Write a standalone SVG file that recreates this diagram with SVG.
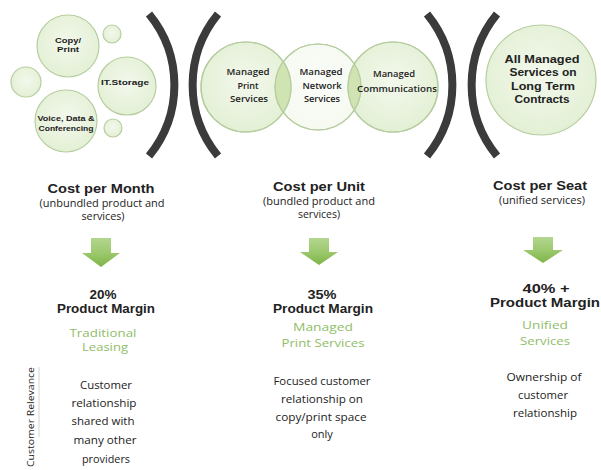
<svg xmlns="http://www.w3.org/2000/svg" width="601" height="470" viewBox="0 0 601 470">
<defs>
<linearGradient id="arr" x1="0" y1="0" x2="0" y2="1">
<stop offset="0" stop-color="#b3d690"/>
<stop offset="0.5" stop-color="#9cc96e"/>
<stop offset="1" stop-color="#7fb446"/>
</linearGradient>
<radialGradient id="cf" cx="0.5" cy="0.45" r="0.6">
<stop offset="0" stop-color="#f3f8ec"/>
<stop offset="1" stop-color="#e2efd3"/>
</radialGradient>
<clipPath id="cPrint"><circle cx="246" cy="87" r="45"/></clipPath>
<clipPath id="cComm"><circle cx="393" cy="87" r="45"/></clipPath>
</defs>
<style>
.c{fill:url(#cf);stroke:#b7cda0;stroke-width:1.2}
.lens{fill:#cfe3b3;stroke:none}
.br{fill:none;stroke:#3b3b3b;stroke-width:8}
text{font-family:"Open Sans","Noto Sans","DejaVu Sans",sans-serif;fill:#222;text-anchor:middle}
.ct{font-family:"Liberation Sans","Open Sans",sans-serif;font-size:8px;font-weight:700}
.mt{font-size:9px;font-weight:600}
.bt{font-family:"Liberation Sans","Open Sans",sans-serif;font-size:11.5px;font-weight:700}
.h{font-family:"Liberation Sans","Open Sans",sans-serif;font-size:12px;font-weight:700}
.s{font-size:10px}
.g{font-size:11.5px;fill:#8fbd68}
.d{font-size:11px}
.ar{fill:url(#arr)}
</style>
<rect width="601" height="470" fill="#ffffff"/>

<g id="cluster-left">
<g id="node-copy-print"><circle class="c" cx="68" cy="46" r="31"/>
<text class="ct" x="68" y="43" textLength="26" lengthAdjust="spacingAndGlyphs">Copy/</text><text class="ct" x="68" y="52" textLength="22" lengthAdjust="spacingAndGlyphs">Print</text></g>
<g id="node-small-1"><circle class="c" cx="112" cy="34" r="9"/></g>
<g id="node-small-2"><circle class="c" cx="26" cy="82" r="15"/></g>
<g id="node-small-3"><circle class="c" cx="113" cy="128" r="9"/></g>
<g id="node-it-storage"><circle class="c" cx="127" cy="86" r="29"/>
<text class="ct" x="125" y="85" textLength="48" lengthAdjust="spacingAndGlyphs">IT.Storage</text></g>
<g id="node-voice"><circle class="c" cx="66" cy="121" r="31"/>
<text class="ct" x="66" y="121" textLength="57" lengthAdjust="spacingAndGlyphs">Voice, Data &amp;</text>
<text class="ct" x="66" y="131" textLength="55" lengthAdjust="spacingAndGlyphs">Conferencing</text></g>
</g>

<g id="brackets">
<path class="br" d="M149,14 A112,112 0 0 1 149,156"/>
<path class="br" d="M218,14 A112,112 0 0 0 218,156"/>
<path class="br" d="M427,14 A112,112 0 0 1 427,156"/>
<path class="br" d="M497,14 A112,112 0 0 0 497,156"/>
</g>

<g id="cluster-middle">
<g id="node-managed-print"><circle class="c" cx="246" cy="87" r="45"/></g>
<g id="node-managed-comm"><circle class="c" cx="393" cy="87" r="45"/></g>
<g id="node-managed-network"><circle class="c" cx="318" cy="87" r="43" fill-opacity="0.35"/>
<circle class="lens" cx="318" cy="87" r="43" clip-path="url(#cPrint)"/>
<circle class="lens" cx="318" cy="87" r="43" clip-path="url(#cComm)"/>
<circle cx="318" cy="87" r="43" fill="none" stroke="#b7cda0" stroke-width="1.2"/>
<circle cx="246" cy="87" r="45" fill="none" stroke="#b7cda0" stroke-width="1.2"/>
<circle cx="393" cy="87" r="45" fill="none" stroke="#b7cda0" stroke-width="1.2"/></g>
<text class="mt" x="248" y="75" textLength="43" lengthAdjust="spacingAndGlyphs">Managed</text>
<text class="mt" x="248" y="89">Print</text>
<text class="mt" x="249" y="102" textLength="38" lengthAdjust="spacingAndGlyphs">Services</text>
<text class="mt" x="321" y="75" textLength="43" lengthAdjust="spacingAndGlyphs">Managed</text>
<text class="mt" x="322" y="89" textLength="39" lengthAdjust="spacingAndGlyphs">Network</text>
<text class="mt" x="322" y="102" textLength="36" lengthAdjust="spacingAndGlyphs">Services</text>
<text class="mt" x="394" y="77" textLength="42" lengthAdjust="spacingAndGlyphs">Managed</text>
<text class="mt" x="397" y="92" textLength="80" lengthAdjust="spacingAndGlyphs">Communications</text>
</g>

<g id="node-all-managed"><circle class="c" cx="541" cy="80" r="55"/>
<text class="bt" x="542" y="63" textLength="75" lengthAdjust="spacingAndGlyphs">All Managed</text>
<text class="bt" x="543" y="76" textLength="67" lengthAdjust="spacingAndGlyphs">Services on</text>
<text class="bt" x="543" y="90" textLength="64" lengthAdjust="spacingAndGlyphs">Long Term</text>
<text class="bt" x="542" y="103" textLength="55" lengthAdjust="spacingAndGlyphs">Contracts</text>
</g>

<g id="connectors">
<path class="ar" d="M91,238 H111 V253 H120 L101,267 L82,253 H91 Z"/>
<path class="ar" d="M309,238 H329 V252 H338 L319,265 L300,252 H309 Z"/>
<path class="ar" d="M533,237 H553 V250 H563 L543,263 L523,250 H533 Z"/>
</g>

<g id="col-month">
<text class="h" x="101" y="193" textLength="107" lengthAdjust="spacingAndGlyphs">Cost per Month</text>
<text class="s" x="102" y="207" textLength="125" lengthAdjust="spacingAndGlyphs">(unbundled product and</text>
<text class="s" x="103" y="220" textLength="43" lengthAdjust="spacingAndGlyphs">services)</text>
<text class="h" x="103" y="299" textLength="27" lengthAdjust="spacingAndGlyphs">20%</text>
<text class="h" x="106" y="313" textLength="98" lengthAdjust="spacingAndGlyphs">Product Margin</text>
<text class="g" x="103" y="337" textLength="67" lengthAdjust="spacingAndGlyphs">Traditional</text>
<text class="g" x="105" y="351" textLength="46" lengthAdjust="spacingAndGlyphs">Leasing</text>
<text class="d" x="106" y="389" textLength="52" lengthAdjust="spacingAndGlyphs">Customer</text>
<text class="d" x="104" y="407" textLength="65" lengthAdjust="spacingAndGlyphs">relationship</text>
<text class="d" x="103" y="425" textLength="63" lengthAdjust="spacingAndGlyphs">shared with</text>
<text class="d" x="105" y="444" textLength="63" lengthAdjust="spacingAndGlyphs">many other</text>
<text class="d" x="106" y="463" textLength="48" lengthAdjust="spacingAndGlyphs">providers</text>
</g>

<g id="col-unit">
<text class="h" x="319" y="191" textLength="92" lengthAdjust="spacingAndGlyphs">Cost per Unit</text>
<text class="s" x="319" y="205" textLength="112" lengthAdjust="spacingAndGlyphs">(bundled product and</text>
<text class="s" x="319" y="218" textLength="42" lengthAdjust="spacingAndGlyphs">services)</text>
<text class="h" x="322" y="299" textLength="29" lengthAdjust="spacingAndGlyphs">35%</text>
<text class="h" x="323" y="313" textLength="100" lengthAdjust="spacingAndGlyphs">Product Margin</text>
<text class="g" x="323" y="331" textLength="60" lengthAdjust="spacingAndGlyphs">Managed</text>
<text class="g" x="323" y="347" textLength="83" lengthAdjust="spacingAndGlyphs">Print Services</text>
<text class="d" x="322" y="385" textLength="97" lengthAdjust="spacingAndGlyphs">Focused customer</text>
<text class="d" x="322" y="403" textLength="82" lengthAdjust="spacingAndGlyphs">relationship on</text>
<text class="d" x="321" y="421" textLength="91" lengthAdjust="spacingAndGlyphs">copy/print space</text>
<text class="d" x="322" y="438">only</text>
</g>

<g id="col-seat">
<text class="h" x="540" y="190" textLength="94" lengthAdjust="spacingAndGlyphs">Cost per Seat</text>
<text class="s" x="542" y="204" textLength="86" lengthAdjust="spacingAndGlyphs">(unified services)</text>
<text class="h" x="546" y="293" textLength="47" lengthAdjust="spacingAndGlyphs">40% +</text>
<text class="h" x="545" y="307" textLength="110" lengthAdjust="spacingAndGlyphs">Product Margin</text>
<text class="g" x="545" y="329" textLength="46" lengthAdjust="spacingAndGlyphs">Unified</text>
<text class="g" x="545" y="345" textLength="50" lengthAdjust="spacingAndGlyphs">Services</text>
<text class="d" x="544" y="381" textLength="75" lengthAdjust="spacingAndGlyphs">Ownership of</text>
<text class="d" x="543" y="399" textLength="50" lengthAdjust="spacingAndGlyphs">customer</text>
<text class="d" x="545" y="417" textLength="64" lengthAdjust="spacingAndGlyphs">relationship</text>
</g>

<g id="axis-label">
<line x1="39" y1="367" x2="39" y2="437" stroke="#d4d4d4" stroke-width="1"/>
<text x="0" y="0" transform="translate(33.5,417) rotate(-90)" style="font-size:9.5px" textLength="100" lengthAdjust="spacingAndGlyphs">Customer Relevance</text>
</g>
</svg>
